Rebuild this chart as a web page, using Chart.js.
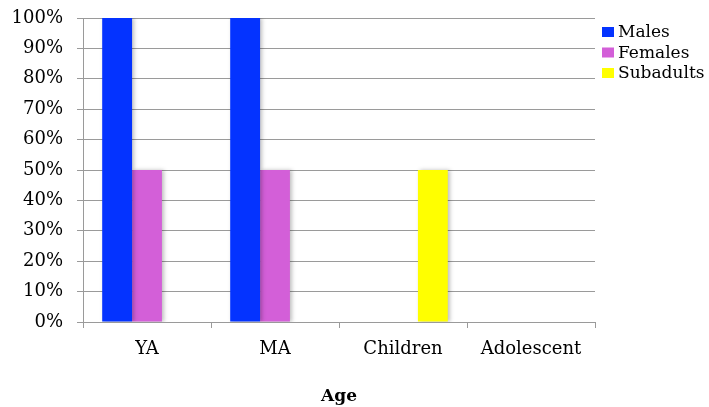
<!DOCTYPE html>
<html lang="en">
<head>
<meta charset="utf-8" />
<title>Age</title>
<script src="https://cdn.jsdelivr.net/npm/chart.js"></script>
<style>
  html, body { margin: 0; padding: 0; background: #fff; }
  #wrap { width: 709px; height: 407px; }
</style>
</head>
<body>
<div id="wrap"><canvas id="chart"></canvas></div>
<script>
// categories and series
var categories = ["YA", "MA", "Children", "Adolescent"];
var males = [100, 100, 0, 0];
var females = [50, 50, 0, 0];
var subadults = [0, 0, 50, 0];
var yTicks = [0, 10, 20, 30, 40, 50, 60, 70, 80, 90, 100];

var FONT = "'DejaVu Serif', 'Liberation Serif', serif";
var GRID = "#9a9a9a";

// soft shadow behind the bars, like the original
var barShadow = {
  id: "barShadow",
  beforeDatasetsDraw: function (chart) {
    var ctx = chart.ctx;
    ctx.save();
    ctx.shadowColor = "rgba(0,0,0,0.25)";
    ctx.shadowBlur = 4;
    ctx.shadowOffsetX = 2;
    ctx.shadowOffsetY = 0;
  },
  afterDatasetsDraw: function (chart) {
    chart.ctx.restore();
  }
};

// simple legend drawn to the right of the plot (built-in one adds too much gap)
var sideLegend = {
  id: "sideLegend",
  afterDraw: function (chart) {
    var ctx = chart.ctx;
    var x = chart.chartArea.right + 7;
    var y = 32;
    ctx.save();
    ctx.font = "17px " + FONT;
    ctx.textBaseline = "middle";
    ctx.textAlign = "left";
    chart.data.datasets.forEach(function (ds, i) {
      var cy = y + i * 20.5;
      ctx.fillStyle = ds.backgroundColor;
      ctx.fillRect(x, cy - 5, 12, 10);
      ctx.fillStyle = "#000";
      ctx.fillText(ds.label, x + 16, cy + 1);
    });
    ctx.restore();
  }
};

new Chart(document.getElementById("chart"), {
  type: "bar",
  data: {
    labels: categories,
    datasets: [
      { label: "Males", data: males, backgroundColor: "#0433ff" },
      { label: "Females", data: females, backgroundColor: "#d35fd8" },
      { label: "Subadults", data: subadults, backgroundColor: "#ffff00" }
    ]
  },
  options: {
    responsive: true,
    maintainAspectRatio: false,
    animation: false,
    barPercentage: 1,
    categoryPercentage: 0.7,
    layout: { padding: { left: 0, top: 18, right: 114, bottom: 0 } },
    plugins: {
      tooltip: { enabled: false },
      legend: { display: false }
    },
    scales: {
      x: {
        offset: true,
        grid: {
          offset: true,
          drawOnChartArea: false,
          drawTicks: true,
          tickLength: 6,
          color: GRID
        },
        border: { color: GRID, width: 1 },
        ticks: {
          font: { family: FONT, size: 18 },
          color: "#000",
          padding: 11
        },
        title: {
          display: true,
          text: "Age",
          font: { family: FONT, size: 17, weight: "bold" },
          color: "#000",
          padding: { top: 15, bottom: 0 }
        }
      },
      y: {
        min: 0,
        max: 100,
        afterBuildTicks: function (axis) {
          axis.ticks = yTicks.map(function (v) { return { value: v }; });
        },
        afterFit: function (axis) {
          axis.width = 83;
          axis.paddingTop = 0;
          axis.paddingBottom = 0;
        },
        grid: {
          color: GRID,
          tickLength: 6
        },
        border: { color: GRID, width: 1 },
        ticks: {
          font: { family: FONT, size: 18 },
          color: "#000",
          padding: 14,
          callback: function (v) { return v + "%"; }
        }
      }
    }
  },
  plugins: [barShadow, sideLegend]
});
</script>
</body>
</html>
